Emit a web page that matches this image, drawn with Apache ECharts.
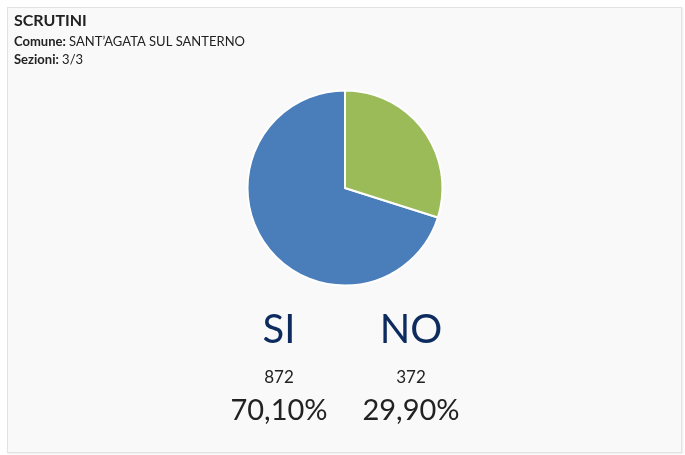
<!DOCTYPE html>
<html>
<head>
<meta charset="utf-8">
<script src="https://cdn.jsdelivr.net/npm/echarts@6/dist/echarts.min.js"></script>
<style>
html,body{margin:0;padding:0;background:#ffffff;}
#box{position:absolute;left:7px;top:7px;width:673px;height:444px;background:#f9f9f9;border:1px solid #e2e2e2;box-shadow:1px 1px 2px rgba(0,0,0,0.08);}
#chart{width:673px;height:444px;}
</style>
</head>
<body>
<div id="box"><div id="chart"></div></div>
<script>
const title = 'SCRUTINI';
const comune = 'SANT\u2019AGATA SUL SANTERNO';
const sezioni = '3/3';
const categories = ['SI', 'NO'];
const votes = [872, 372];
const colors = ['#4a7ebb', '#9bbb59'];

const total = votes.reduce((a, b) => a + b, 0);
const pct = votes.map(v => (v / total * 100).toFixed(2).replace('.', ',') + '%');

const chart = echarts.init(document.getElementById('chart'), null, {renderer: 'canvas'});
const font = 'Lato, "Open Sans", sans-serif';
const colX = [271, 403];
const graphics = [
  {type: 'text', left: 6, top: 5, style: {text: title, font: 'bold 16px ' + font, fill: '#222'}},
  {type: 'text', left: 6, top: 27, style: {rich: {b: {font: 'bold 13px ' + font, fill: '#222'}, n: {font: '13px ' + font, fill: '#222'}}, text: '{b|Comune:} {n|' + comune + '}'}},
  {type: 'text', left: 6, top: 45, style: {rich: {b: {font: 'bold 13px ' + font, fill: '#222'}, n: {font: '13px ' + font, fill: '#222'}}, text: '{b|Sezioni:} {n|' + sezioni + '}'}}
];
categories.forEach((c, i) => {
  graphics.push({type: 'text', x: colX[i], y: 322, style: {text: c, font: '40px ' + font, fill: '#0d2b5e', align: 'center', verticalAlign: 'middle'}});
  graphics.push({type: 'text', x: colX[i], y: 370, style: {text: String(votes[i]), font: '17px ' + font, fill: '#222', align: 'center', verticalAlign: 'middle'}});
  graphics.push({type: 'text', x: colX[i], y: 403, style: {text: pct[i], font: '29px ' + font, fill: '#222', align: 'center', verticalAlign: 'middle'}});
});

chart.setOption({
  animation: false,
  graphic: graphics,
  series: [{
    type: 'pie',
    center: [337, 180],
    radius: 97.5,
    startAngle: 90,
    clockwise: false,
    label: {show: false},
    labelLine: {show: false},
    itemStyle: {borderColor: '#ffffff', borderWidth: 2},
    emphasis: {disabled: true},
    data: categories.map((c, i) => ({name: c, value: votes[i], itemStyle: {color: colors[i]}}))
  }]
});
</script>
</body>
</html>
